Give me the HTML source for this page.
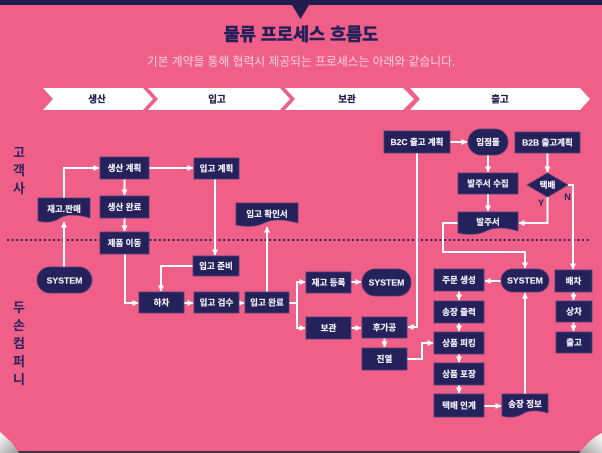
<!DOCTYPE html>
<html><head><meta charset="utf-8"><style>
html,body{margin:0;padding:0;background:#ef5f88;}
svg{display:block;}
text{font-family:"Liberation Sans","Noto Sans CJK KR",sans-serif;}
.n{fill:#25225b;stroke:#4e3f78;stroke-width:0.8;}
.t{fill:#f6f2f8;font-size:8.5px;font-weight:bold;text-anchor:middle;stroke:#f6f2f8;stroke-width:0.15;}
.c{fill:none;stroke:#fff;stroke-width:2;marker-end:url(#a);}
.l{fill:none;stroke:#fff;stroke-width:2;}
.v{fill:#2a235e;font-size:13px;font-weight:bold;text-anchor:middle;}
.h{fill:#1f1c4f;font-size:9.5px;font-weight:bold;text-anchor:middle;stroke:#1f1c4f;stroke-width:0.25;}
</style></head><body>
<svg width="602" height="453" viewBox="0 0 602 453" xmlns="http://www.w3.org/2000/svg">
<defs>
<marker id="a" viewBox="0 0 6 6" refX="5.5" refY="3" markerWidth="6" markerHeight="6" markerUnits="userSpaceOnUse" orient="auto"><path d="M0,0 L6,3 L0,6 z" fill="#fff"/></marker>
<linearGradient id="g1" x1="0" y1="0" x2="1" y2="1"><stop offset="0" stop-color="#ffffff"/><stop offset="1" stop-color="#9a9a9a"/></linearGradient>
<linearGradient id="g2" x1="1" y1="0" x2="0" y2="1"><stop offset="0" stop-color="#ffffff"/><stop offset="1" stop-color="#a0a0a0"/></linearGradient>
</defs>
<rect x="0" y="0" width="602" height="453" fill="#ef5f88"/>
<rect x="0" y="0" width="602" height="5" fill="#211e4e"/>
<polygon points="292,5 309,5 300.5,19" fill="#211e4e"/>
<text x="301" y="40.5" style="font-size:17.5px;font-weight:bold;fill:#24205a;stroke:#24205a;stroke-width:0.6;text-anchor:middle">물류 프로세스 흐름도</text>
<text x="301" y="65.5" style="font-size:11.8px;fill:#f9d3de;text-anchor:middle">기본 계약을 통해 협력시 제공되는 프로세스는 아래와 같습니다.</text>

<polygon points="43,88 143,88 153,99 143,110 43,110 53,99" fill="#fff"/>
<polygon points="148,88 280,88 290,99 280,110 148,110 158,99" fill="#fff"/>
<polygon points="285,88 403,88 414,99 403,110 285,110 295,99" fill="#fff"/>
<polygon points="410,88 580,88 590,99 580,110 410,110 420,99" fill="#fff"/>
<text class="h" x="97" y="102.5">생산</text>
<text class="h" x="217" y="102.5">입고</text>
<text class="h" x="347" y="102.5">보관</text>
<text class="h" x="500" y="102.5">출고</text>

<text class="v" x="19" y="157">고</text>
<text class="v" x="19" y="175">객</text>
<text class="v" x="19" y="193">사</text>
<text class="v" x="19" y="312">두</text>
<text class="v" x="19" y="330">손</text>
<text class="v" x="19" y="348">컴</text>
<text class="v" x="19" y="366">퍼</text>
<text class="v" x="19" y="384">니</text>

<line x1="7" y1="240" x2="590" y2="240" stroke="#2a235e" stroke-width="2" stroke-dasharray="2,2.6"/>

<!-- connectors -->
<polyline class="c" points="64,267 64,222"/>
<polyline class="c" points="64,198 64,168 99,168"/>
<polyline class="c" points="124.5,179 124.5,195"/>
<polyline class="c" points="124.5,218 124.5,231"/>
<polyline class="c" points="125,254 125,303 138,303"/>
<polyline class="c" points="149,168 193,168"/>
<polyline class="c" points="215,179 215,255"/>
<polyline class="c" points="193,266 161,266 161,291"/>
<polyline class="c" points="184,303 193,303"/>
<polyline class="c" points="239,303 244,303"/>
<polyline class="c" points="267,292 267,227"/>
<polyline class="l" points="289,303 297,303"/>
<polyline class="c" points="297,303 297,282 305,282"/>
<polyline class="c" points="297,303 297,328 305,328"/>
<polyline class="c" points="351,282 361,282"/>
<polyline class="c" points="351,328 361,328"/>
<polyline class="c" points="384.5,338 384.5,347"/>
<polyline class="c" points="417,153 417,327 408,327"/>
<polyline class="c" points="450,142 467,142"/>
<polyline class="c" points="488,155 488,172"/>
<polyline class="c" points="488,194 488,211"/>
<polyline class="c" points="547.5,153 547.5,172"/>
<polyline class="c" points="547.5,197 547.5,223 519,223"/>
<polyline class="c" points="568,185 573,185 573,269"/>
<polyline class="c" points="458,223 443,223 443,252 525,252 525,268"/>
<polyline class="c" points="501,281 485,281"/>
<polyline class="c" points="459,291 459,300"/>
<polyline class="c" points="459,323 459,331"/>
<polyline class="c" points="407,359 422,359 422,343 433,343"/>
<polyline class="c" points="459,354 459,362"/>
<polyline class="c" points="459,385 459,393"/>
<polyline class="c" points="484,406 501,406"/>
<polyline class="c" points="525,394 525,293"/>
<polyline class="c" points="573.5,292 573.5,300"/>
<polyline class="c" points="573.5,322 573.5,331"/>

<!-- nodes -->
<rect class="n" x="100" y="157" width="49" height="22"/><text class="t" x="124.5" y="171">생산 계획</text>
<rect class="n" x="194" y="158" width="45" height="21"/><text class="t" x="216.5" y="171.5">입고 계획</text>
<path class="n" d="M38,198 H90 V218 C78,214 66,214 60,218 C54,222 46,223 38,221 Z"/><text class="t" x="64" y="212">재고.판매</text>
<rect class="n" x="100" y="196" width="49" height="22"/><text class="t" x="124.5" y="210">생산 완료</text>
<rect class="n" x="100" y="232" width="49" height="22"/><text class="t" x="124.5" y="246">제품 이동</text>
<rect class="n" x="37" y="267" width="55" height="26" rx="13"/><text class="t" x="64.5" y="283.5" style="font-size:8.7px">SYSTEM</text>
<rect class="n" x="139" y="292" width="45" height="21"/><text class="t" x="161.5" y="305.5">하차</text>
<rect class="n" x="194" y="292" width="45" height="21"/><text class="t" x="216.5" y="305.5">입고 검수</text>
<rect class="n" x="245" y="292" width="44" height="21"/><text class="t" x="267" y="305.5">입고 완료</text>
<rect class="n" x="193" y="256" width="46" height="20"/><text class="t" x="216" y="269">입고 준비</text>
<path class="n" d="M236,203 H298 V223 C284,219 272,219 264,223 C256,227 246,227 236,225 Z"/><text class="t" x="267" y="217">입고 확인서</text>
<rect class="n" x="306" y="272" width="45" height="21"/><text class="t" x="328.5" y="285.5">재고 등록</text>
<rect class="n" x="362" y="269" width="49" height="27" rx="13"/><text class="t" x="386.5" y="285.5" style="font-size:8.7px">SYSTEM</text>
<rect class="n" x="306" y="317" width="45" height="22"/><text class="t" x="328.5" y="331">보관</text>
<rect class="n" x="362" y="317" width="45" height="21"/><text class="t" x="384.5" y="330.5">후가공</text>
<rect class="n" x="362" y="348" width="45" height="22"/><text class="t" x="384.5" y="362">진열</text>
<rect class="n" x="384" y="131" width="66" height="22"/><text class="t" x="417" y="145">B2C 출고 계획</text>
<rect class="n" x="468" y="129" width="40" height="26" rx="13"/><text class="t" x="488" y="145">입점몰</text>
<rect class="n" x="515" y="132" width="65" height="21"/><text class="t" x="547.5" y="145.5">B2B 출고계획</text>
<rect class="n" x="458" y="173" width="60" height="21"/><text class="t" x="488" y="186.5">발주서 수집</text>
<polygon class="n" points="547.5,173 568,185 547.5,197 527,185"/><text class="t" x="547.5" y="188">택배</text>
<text x="541" y="206" style="font-size:9px;font-weight:bold;fill:#2a235e;text-anchor:middle">Y</text>
<text x="567.5" y="200" style="font-size:9px;font-weight:bold;fill:#2a235e;text-anchor:middle">N</text>
<path class="n" d="M458,212 H518 V231 C505,227 494,227 486,231 C478,235 468,235 458,233 Z"/><text class="t" x="488" y="225">발주서</text>
<rect class="n" x="434" y="269" width="50" height="22"/><text class="t" x="459" y="283">주문 생성</text>
<rect class="n" x="501" y="269" width="48" height="23" rx="11.5"/><text class="t" x="525" y="283.5" style="font-size:8.7px">SYSTEM</text>
<rect class="n" x="555" y="270" width="37" height="22"/><text class="t" x="573.5" y="284">배차</text>
<rect class="n" x="434" y="301" width="50" height="22"/><text class="t" x="459" y="315">송장 출력</text>
<rect class="n" x="434" y="332" width="50" height="22"/><text class="t" x="459" y="346">상품 피킹</text>
<rect class="n" x="434" y="363" width="50" height="22"/><text class="t" x="459" y="377">상품 포장</text>
<rect class="n" x="434" y="394" width="50" height="23"/><text class="t" x="459" y="408.5">택배 인계</text>
<path class="n" d="M502,394 H548 V413 C538,410 530,410 524,413 C518,417 510,418 502,416 Z"/><text class="t" x="525" y="407">송장 정보</text>
<rect class="n" x="556" y="301" width="36" height="21"/><text class="t" x="574" y="314.5">상차</text>
<rect class="n" x="556" y="332" width="36" height="21"/><text class="t" x="574" y="345.5">출고</text>

<!-- bottom edge and curls -->
<rect x="0" y="451" width="602" height="2" fill="#3d3445"/>
<path d="M0,432 C5,436 9,440 12,443 C15,447 17,450 19,453 L0,453 Z" fill="url(#g1)"/>
<path d="M602,433 C596,436 592,439 588,443 C584,447 582,450 579,453 L602,453 Z" fill="url(#g2)"/>
</svg>
</body></html>
